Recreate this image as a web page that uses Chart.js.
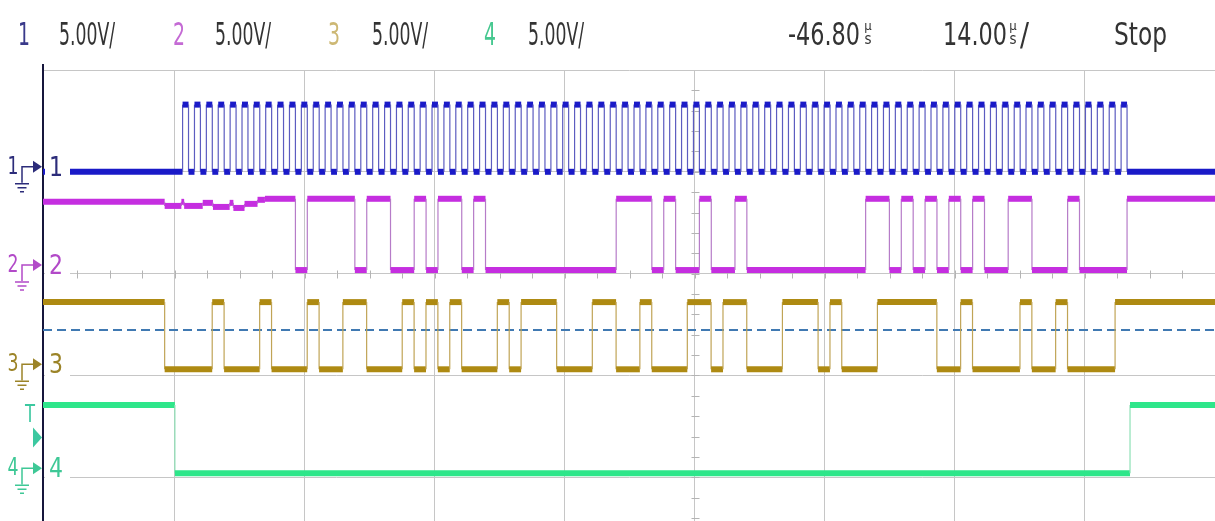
<!DOCTYPE html>
<html>
<head>
<meta charset="utf-8">
<title>Scope capture</title>
<script src="https://cdn.jsdelivr.net/npm/chart.js@4.4.0/dist/chart.umd.min.js"></script>
<style>
  html, body { margin: 0; padding: 0; background: #fff; }
  #wrap { width: 1215px; height: 521px; }
</style>
</head>
<body>
<div id="wrap"><canvas id="scope" width="1215" height="521"></canvas></div>
<script>
// time base 14 us/div, delay -46.80 us -> visible window in us
const timeMin = -117.0;
const timeMax = 9.2;
const gridTimes = [-102.8, -88.8, -74.8, -60.8, -46.8, -32.8, -18.8, -4.8];
const centerTime = -46.8;
const gridDivs = [0, 1, 2, 3, 4];
const divMin = -0.43;
const divMax = 4;

const channelNames = ['1', '2', '3', '4'];
const voltsPerDiv = [5, 5, 5, 5];
const channelOffsets = [3.0, 2.035, 1.06, 0.04];   // ground level of each trace, in divs
const highVolts = [3.3, 3.5, 3.3, 3.35];

// ch1: clock rising edges (us)
const clkRise = [
  -101.97, -100.69, -99.41, -98.13, -96.85, -95.57, -94.30, -93.02, -91.74, -90.46,
  -89.18, -87.90, -86.62, -85.34, -84.06, -82.78, -81.50, -80.22, -78.94, -77.67,
  -76.39, -75.11, -73.83, -72.55, -71.27, -69.99, -68.71, -67.43, -66.15, -64.87,
  -63.59, -62.31, -61.04, -59.76, -58.48, -57.20, -55.92, -54.64, -53.36, -52.08,
  -50.80, -49.52, -48.24, -46.96, -45.68, -44.41, -43.13, -41.85, -40.57, -39.29,
  -38.01, -36.73, -35.45, -34.17, -32.89, -31.61, -30.33, -29.05, -27.78, -26.50,
  -25.22, -23.94, -22.66, -21.38, -20.10, -18.82, -17.54, -16.26, -14.98, -13.70,
  -12.42, -11.15, -9.87, -8.59, -7.31, -6.03, -4.75, -3.47, -2.19, -0.91
];
const clkWidth = 0.64;

// ch2: idle level before the first edge [us, V], then edges (us)
const ch2Idle = [
  [-117.0, 3.35], [-103.9, 3.35], [-103.9, 3.15], [-102.1, 3.15], [-102.1, 3.35], [-101.8, 3.35],
  [-101.8, 3.15], [-99.8, 3.15], [-99.8, 3.3], [-98.7, 3.3], [-98.7, 3.1], [-96.9, 3.1],
  [-96.9, 3.3], [-96.5, 3.3], [-96.5, 3.05], [-95.3, 3.05], [-95.3, 3.25], [-93.9, 3.25],
  [-93.9, 3.45], [-93.1, 3.45], [-93.1, 3.5]
];
const ch2Edges = [
  -89.82, -88.54, -83.42, -82.14, -79.58, -77.03, -75.75, -74.47, -71.91, -70.63,
  -69.35, -55.28, -51.44, -50.16, -48.88, -46.32, -45.04, -42.49, -41.21, -28.42,
  -25.86, -24.58, -23.30, -22.02, -20.74, -19.46, -18.18, -16.90, -15.62, -13.07,
  -10.51, -6.67, -5.39, -0.27
];

// ch3: edges (us), starts high
const ch3Edges = [
  -103.90, -98.78, -97.50, -93.67, -92.39, -88.55, -87.27, -84.71, -82.15, -78.32,
  -77.04, -75.76, -74.48, -73.20, -71.92, -68.08, -66.80, -65.52, -61.69, -57.85,
  -55.29, -52.73, -51.45, -47.62, -45.06, -43.78, -41.22, -37.38, -33.54, -32.26,
  -30.99, -27.15, -20.75, -18.19, -16.91, -11.80, -10.52, -7.96, -6.68, -1.56
];

// ch4: chip select, starts high
const ch4Edges = [-102.8, 0.05];

const trigVolts = 1.75;      // trigger level on ch4
const cursorDiv = 1.445;     // dashed cursor line

const scaleLabels = ['5.00V/', '5.00V/', '5.00V/', '5.00V/'];
const delayText = '-46.80';
const timebaseText = '14.00';
const runState = 'Stop';

const levelColors = ['#1a1ac8', '#c52ee0', '#ae8a12', '#2ee68a'];
const edgeColors = ['#5c5cc0', '#b67cc8', '#c0a456', '#8ee0b6'];
const labelColors = ['#2c2c7a', '#b24ac8', '#9c8428', '#3ec896'];
const headColors = ['#3a3a8a', '#c46ad4', '#cdb874', '#46c890'];

function lvl(i, v) { return channelOffsets[i] + v / voltsPerDiv[i]; }

function stepPoints(i, edges, startHigh, lead) {
  const lo = lvl(i, 0), hi = lvl(i, highVolts[i]);
  const pts = lead ? lead.map(p => ({ x: p[0], y: lvl(i, p[1]) })) : [{ x: timeMin, y: startHigh ? hi : lo }];
  let state = startHigh;
  edges.forEach(t => {
    const a = state ? hi : lo;
    state = !state;
    pts.push({ x: t, y: a }, { x: t, y: state ? hi : lo });
  });
  pts.push({ x: timeMax, y: state ? hi : lo });
  return pts;
}

const clkEdges = [];
clkRise.forEach(r => clkEdges.push(r, +(r + clkWidth).toFixed(2)));

function trace(i, data, thick) {
  const isEdge = c => c.p0.parsed.x === c.p1.parsed.x;
  return {
    label: 'CH' + channelNames[i],
    data: data,
    borderColor: levelColors[i],
    borderWidth: thick,
    pointRadius: 0,
    tension: 0,
    segment: {
      borderColor: c => isEdge(c) ? edgeColors[i] : levelColors[i],
      borderWidth: c => isEdge(c) ? 1.2 : thick
    }
  };
}

const datasets = [
  trace(0, stepPoints(0, clkEdges, false), 6),
  trace(1, stepPoints(1, ch2Edges, true, ch2Idle), 6),
  trace(2, stepPoints(2, ch3Edges, true), 6),
  trace(3, stepPoints(3, ch4Edges, true), 6),
  {
    label: 'cursor',
    data: [{ x: timeMin, y: cursorDiv }, { x: timeMax, y: cursorDiv }],
    borderColor: '#4079b2',
    borderWidth: 2,
    borderDash: [9, 5],
    pointRadius: 0
  }
];

const textFont = s => s + 'px "Liberation Sans Narrow", "DejaVu Sans Condensed", "Liberation Sans", sans-serif';

function stackedUnit(ctx, x) {
  ctx.textAlign = 'center';
  ctx.font = textFont(13);
  ctx.fillText('\u00b5', x, 30);
  ctx.font = textFont(15);
  ctx.fillText('s', x, 44);
}

const scopeDecor = {
  id: 'scopeDecor',
  beforeDatasetsDraw(chart) {
    const ctx = chart.ctx, xs = chart.scales.x, ys = chart.scales.y;
    ctx.save();
    ctx.strokeStyle = '#b4b4b4';
    ctx.lineWidth = 1;
    ctx.beginPath();
    const cx = Math.round(xs.getPixelForValue(centerTime)) + 0.5;
    for (let d = Math.ceil(divMin * 5) / 5; d <= divMax; d += 0.2) {
      const py = Math.round(ys.getPixelForValue(d)) + 0.5;
      ctx.moveTo(cx - 4, py); ctx.lineTo(cx + 4, py);
    }
    const cy = Math.round(ys.getPixelForValue(2)) + 0.5;
    for (let t = gridTimes[0] - 14; t <= timeMax; t += 3.5) {
      const px = Math.round(xs.getPixelForValue(t)) + 0.5;
      ctx.moveTo(px, cy - 4); ctx.lineTo(px, cy + 4);
    }
    ctx.stroke();
    ctx.restore();
  },
  afterDraw(chart) {
    const ctx = chart.ctx, ys = chart.scales.y, area = chart.chartArea;
    ctx.save();
    ctx.textBaseline = 'alphabetic';

    // left border runs a little above the top grid line
    ctx.strokeStyle = '#16163c';
    ctx.lineWidth = 2;
    ctx.beginPath();
    ctx.moveTo(area.left, area.top - 6); ctx.lineTo(area.left, area.top + 1);
    ctx.stroke();

    // header line
    const chX = [24, 179, 334, 490];
    const scX = [59, 215, 372, 528];
    channelNames.forEach((n, i) => {
      ctx.font = textFont(32);
      ctx.fillStyle = headColors[i];
      ctx.textAlign = 'center';
      ctx.fillText(n, chX[i], 45, 12);
      ctx.fillStyle = '#333';
      ctx.textAlign = 'left';
      ctx.fillText(scaleLabels[i], scX[i], 45, 56);
    });
    ctx.fillStyle = '#333';
    ctx.font = textFont(32);
    ctx.textAlign = 'left';
    ctx.fillText(delayText, 788, 45, 72);
    stackedUnit(ctx, 868);
    ctx.font = textFont(32);
    ctx.textAlign = 'left';
    ctx.fillText(timebaseText, 943, 45, 64);
    stackedUnit(ctx, 1013);
    ctx.font = textFont(32);
    ctx.textAlign = 'left';
    ctx.fillText('/', 1020, 45, 9);
    ctx.fillText(runState, 1114, 45, 53);

    // ground markers on the left
    channelNames.forEach((n, i) => {
      const yc = ys.getPixelForValue(channelOffsets[i]) - 5;
      ctx.fillStyle = '#fff';
      ctx.fillRect(area.left + 2, yc - 12, 25, 26);
      ctx.fillStyle = labelColors[i];
      ctx.strokeStyle = labelColors[i];
      ctx.textAlign = 'center';
      ctx.font = textFont(27);
      ctx.fillText(n, 56, yc + 9, 14);
      ctx.font = textFont(24);
      ctx.fillText(n, 13, yc + 7, 11);
      ctx.lineWidth = 1.5;
      ctx.beginPath();
      ctx.moveTo(22, yc + 16); ctx.lineTo(22, yc); ctx.lineTo(33, yc);
      ctx.moveTo(15, yc + 17); ctx.lineTo(29, yc + 17);
      ctx.moveTo(17.5, yc + 21); ctx.lineTo(26.5, yc + 21);
      ctx.moveTo(20, yc + 25); ctx.lineTo(24, yc + 25);
      ctx.stroke();
      ctx.beginPath();
      ctx.moveTo(33, yc - 6); ctx.lineTo(42, yc); ctx.lineTo(33, yc + 6);
      ctx.closePath();
      ctx.fill();
    });

    // trigger marker for ch4
    const ty = ys.getPixelForValue(lvl(3, trigVolts));
    ctx.fillStyle = '#3cc8a0';
    ctx.font = textFont(24);
    ctx.textAlign = 'center';
    ctx.fillText('T', 30, ty - 16, 10);
    ctx.beginPath();
    ctx.moveTo(33, ty - 10); ctx.lineTo(42, ty); ctx.lineTo(33, ty + 10);
    ctx.closePath();
    ctx.fill();
    ctx.restore();
  }
};

new Chart(document.getElementById('scope'), {
  type: 'line',
  data: { datasets: datasets },
  options: {
    responsive: false,
    animation: false,
    devicePixelRatio: 1,
    events: [],
    layout: { padding: { left: 43, top: 70, right: 0, bottom: 0 } },
    plugins: { legend: { display: false }, tooltip: { enabled: false } },
    scales: {
      x: {
        type: 'linear',
        min: timeMin,
        max: timeMax,
        afterBuildTicks: s => { s.ticks = gridTimes.map(v => ({ value: v })); },
        ticks: { display: false },
        grid: { color: '#c6c6c6', lineWidth: 1, drawTicks: false },
        border: { display: false }
      },
      y: {
        type: 'linear',
        min: divMin,
        max: divMax,
        afterBuildTicks: s => { s.ticks = gridDivs.map(v => ({ value: v })); },
        ticks: { display: false },
        grid: { color: '#c6c6c6', lineWidth: 1, drawTicks: false },
        border: { display: true, color: '#16163c', width: 2 }
      }
    }
  },
  plugins: [scopeDecor]
});
</script>
</body>
</html>
